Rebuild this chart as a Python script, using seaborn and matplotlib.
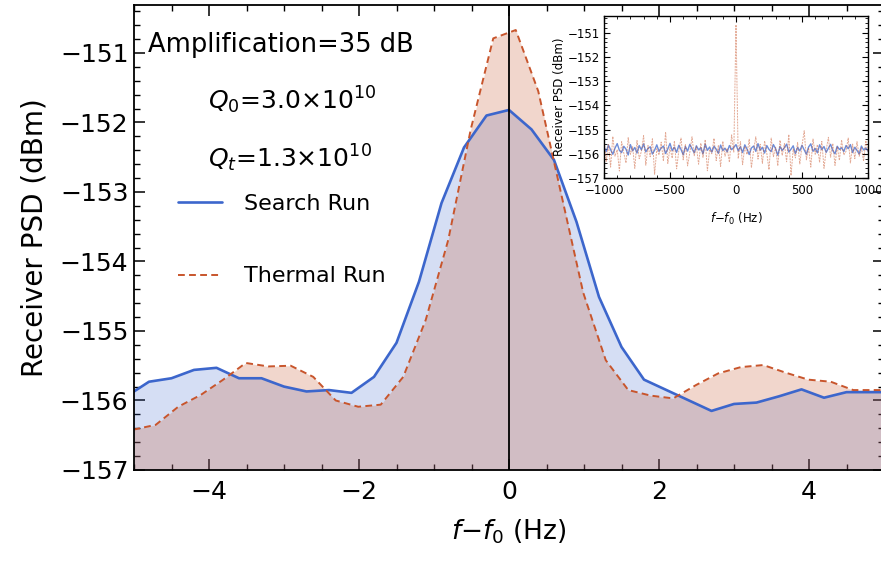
import numpy as np
import pandas as pd
import matplotlib
matplotlib.use("Agg")
import matplotlib.pyplot as plt
from matplotlib.ticker import MultipleLocator
import seaborn as sns

# datos (zoom alrededor de f0)
search_freq = [-5.1, -4.8, -4.5, -4.2, -3.9, -3.6, -3.3, -3.0, -2.7, -2.4, -2.1, -1.8,
               -1.5, -1.2, -0.9, -0.6, -0.3, 0.0, 0.3, 0.6, 0.9, 1.2, 1.5, 1.8,
               2.1, 2.4, 2.7, 3.0, 3.3, 3.6, 3.9, 4.2, 4.5, 4.8, 5.1]
search_psd = [-155.94, -155.73, -155.68, -155.56, -155.53, -155.68, -155.68, -155.80,
              -155.87, -155.85, -155.89, -155.66, -155.17, -154.29, -153.16, -152.36,
              -151.90, -151.82, -152.10, -152.54, -153.43, -154.51, -155.23, -155.70,
              -155.85, -156.00, -156.15, -156.05, -156.03, -155.94, -155.84, -155.96,
              -155.88, -155.88, -155.88]

thermal_freq = [-5.01, -4.71, -4.41, -4.11, -3.81, -3.51, -3.21, -2.91, -2.61, -2.31,
                -2.01, -1.71, -1.41, -1.11, -0.81, -0.51, -0.21, 0.09, 0.39, 0.69,
                0.99, 1.29, 1.59, 1.89, 2.19, 2.49, 2.79, 3.09, 3.39, 3.69, 3.99,
                4.29, 4.59, 4.89, 5.19]
thermal_psd = [-156.42, -156.35, -156.09, -155.92, -155.70, -155.46, -155.51, -155.50,
               -155.66, -156.00, -156.09, -156.06, -155.66, -154.84, -153.69, -152.10,
               -150.79, -150.67, -151.55, -153.00, -154.45, -155.42, -155.85, -155.93,
               -155.97, -155.78, -155.61, -155.52, -155.49, -155.60, -155.70, -155.73,
               -155.85, -155.85, -155.85]

# inset: +-1000 Hz, valores estimados a ojo
inset_search = [
    -155.72, -155.91, -155.64, -155.83, -156.02, -155.77, -155.58, -155.86, -155.95, -155.69,
    -155.81, -156.05, -155.62, -155.88, -155.74, -155.97, -155.66, -155.84, -155.59, -155.92,
    -155.78, -155.71, -156.01, -155.85, -155.63, -155.90, -155.76, -155.68, -155.99, -155.80,
    -155.57, -155.87, -155.73, -155.94, -155.65, -155.82, -156.04, -155.70, -155.89, -155.61,
    -155.79, -155.96, -155.67, -155.84, -155.75, -156.00, -155.60, -155.86, -155.72, -155.93,
    -155.69, -155.81, -155.98, -155.64, -155.87, -155.77, -155.92, -155.66, -155.83, -155.74,
    -155.62,
    -155.88, -155.71, -155.95, -155.63, -155.80, -156.03, -155.76, -155.68, -155.90, -155.58,
    -155.85, -155.73, -155.97, -155.66, -155.82, -155.91, -155.62, -155.79, -156.06, -155.70,
    -155.86, -155.75, -155.60, -155.93, -155.81, -155.67, -155.99, -155.74, -155.88, -155.65,
    -155.84, -156.02, -155.72, -155.59, -155.90, -155.78, -155.96, -155.63, -155.83, -155.70,
    -155.94, -155.77, -155.61, -155.87, -156.00, -155.69, -155.82, -155.75, -155.91, -155.66,
    -155.79, -155.62, -155.95, -155.73, -155.86, -156.01, -155.68, -155.84, -155.76, -155.89]
inset_thermal = [
    -155.41, -156.32, -155.62, -156.55, -155.28, -156.10, -155.83, -156.71, -155.50, -155.97,
    -156.38, -155.33, -156.02, -155.71, -156.60, -155.45, -156.20, -155.90, -155.25, -156.47,
    -155.66, -156.12, -155.38, -156.85, -155.79, -156.05, -155.52, -156.30, -155.10, -156.40,
    -155.74, -156.18, -155.47, -156.62, -155.88, -155.35, -156.25, -155.60, -156.50, -155.95,
    -155.30, -156.08, -155.70, -156.43, -155.56, -156.15, -155.42, -156.70, -155.82, -156.00,
    -155.36, -156.28, -155.64, -156.52, -155.48, -156.10, -155.77, -156.35, -155.22, -155.93,
    -150.67,
    -156.20, -155.50, -156.45, -155.69, -156.03, -155.40, -156.58, -155.85, -155.30, -156.22,
    -155.61, -156.40, -155.47, -155.98, -156.66, -155.35, -156.12, -155.73, -156.50, -155.44,
    -156.07, -155.58, -156.33, -155.20, -156.90, -155.80, -156.17, -155.53, -156.42, -155.66,
    -155.05, -156.25, -155.75, -156.55, -155.39, -156.02, -155.62, -156.36, -155.49, -156.60,
    -155.84, -155.32, -156.14, -155.57, -156.48, -155.70, -156.27, -155.43, -156.05, -155.90,
    -155.35, -156.38, -155.60, -156.20, -155.50, -156.10, -155.75, -156.30, -155.45, -155.95]
inset_freq = np.linspace(-1000, 1000, len(inset_search))

blue = "#3c66cc"
red = "#c8552c"

sns.set_style("ticks")
plt.rcParams["font.family"] = ["DejaVu Sans"]
plt.rcParams["mathtext.fontset"] = "dejavusans"
plt.rcParams["text.color"] = "black"
plt.rcParams["axes.labelcolor"] = "black"
plt.rcParams["xtick.color"] = "black"
plt.rcParams["ytick.color"] = "black"

df_s = pd.DataFrame({"freq": search_freq, "psd": search_psd})
df_t = pd.DataFrame({"freq": thermal_freq, "psd": thermal_psd})
df_in = pd.DataFrame({"freq": inset_freq, "search": inset_search, "thermal": inset_thermal})

fig = plt.figure(figsize=(8.81, 5.62), dpi=100)
ax = fig.add_axes([134 / 881, 1 - 470 / 562, 750 / 881, 465 / 562])

ymin = -157
ax.fill_between(df_s["freq"], df_s["psd"], ymin, color=blue, alpha=0.21, lw=0)
ax.fill_between(df_t["freq"], df_t["psd"], ymin, color=red, alpha=0.24, lw=0)
sns.lineplot(data=df_s, x="freq", y="psd", ax=ax, color=blue, lw=1.9, label="Search Run")
sns.lineplot(data=df_t, x="freq", y="psd", ax=ax, color=red, lw=1.4,
             linestyle=(0, (3.5, 2.2)), label="Thermal Run")
ax.axvline(0, color="black", lw=1.3)

ax.set_xlim(-5, 5)
ax.set_ylim(ymin, -150.31)
ax.set_xticks([-4, -2, 0, 2, 4])
ax.set_yticks(range(-157, -150))
ax.xaxis.set_minor_locator(MultipleLocator(0.5))
ax.yaxis.set_minor_locator(MultipleLocator(0.2))
ax.tick_params(which="both", direction="in", top=True, right=True, labelsize=18)
ax.tick_params(axis="y", pad=4)
ax.tick_params(axis="x", pad=7)
ax.tick_params(which="major", length=8, width=1.1)
ax.tick_params(which="minor", length=4, width=1)
for s in ax.spines.values():
    s.set_linewidth(1.3)
    s.set_color("black")
ax.set_xlabel(r"$f$$-$$f_0$ (Hz)", fontsize=19, labelpad=10)
ax.set_ylabel("Receiver PSD (dBm)", fontsize=20, labelpad=8)

ax.text(0.019, 0.914, "Amplification=35 dB", transform=ax.transAxes, fontsize=18.5, va="center")
ax.text(0.099, 0.796, r"$Q_0$=3.0×10$^{10}$", transform=ax.transAxes, fontsize=18, va="center")
ax.text(0.099, 0.671, r"$Q_t$=1.3×10$^{10}$", transform=ax.transAxes, fontsize=18, va="center")
ax.legend(loc="upper left", bbox_to_anchor=(0.058, 0.593), frameon=False, fontsize=16,
          handlelength=2.0, handletextpad=1.0, labelspacing=2.35, borderaxespad=0, borderpad=0)

# inset
ax2 = fig.add_axes([604 / 881, 1 - 178 / 562, 264 / 881, 162 / 562])
ax2.set_facecolor("white")
sns.lineplot(data=df_in, x="freq", y="search", ax=ax2, color=blue, lw=1.0, alpha=0.75)
sns.lineplot(data=df_in, x="freq", y="thermal", ax=ax2, color=red, lw=0.7, alpha=0.5,
             linestyle=(0, (2, 1)))
ax2.set_xlim(-1000, 1000)
ax2.set_ylim(ymin, -150.31)
ax2.set_xticks([-1000, -500, 0, 500, 1000])
ax2.set_yticks(range(-157, -150))
ax2.xaxis.set_minor_locator(MultipleLocator(100))
ax2.yaxis.set_minor_locator(MultipleLocator(0.2))
ax2.tick_params(which="both", direction="in", top=True, right=True, labelsize=8.5, pad=3)
ax2.tick_params(axis="x", pad=4.5)
ax2.tick_params(which="major", length=4, width=0.8)
ax2.tick_params(which="minor", length=2, width=0.6)
for s in ax2.spines.values():
    s.set_linewidth(1.0)
    s.set_color("black")
ax2.set_xlabel(r"$f$$-$$f_0$ (Hz)", fontsize=8.5, labelpad=10)
ax2.set_ylabel("Receiver PSD (dBm)", fontsize=8.5, labelpad=1)

fig.savefig("out.png", dpi=100)
